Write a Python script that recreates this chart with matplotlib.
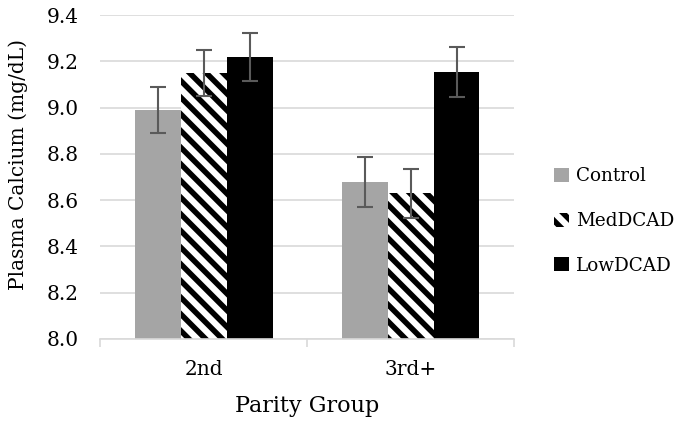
import matplotlib
matplotlib.use("Agg")
import matplotlib.pyplot as plt
import numpy as np

plt.rcParams['font.family'] = ['DejaVu Serif']
plt.rcParams['hatch.linewidth'] = 4.0

groups = ["2nd", "3rd+"]
series = ["Control", "MedDCAD", "LowDCAD"]
control = [8.99, 8.68]
med_dcad = [9.15, 8.63]
low_dcad = [9.22, 9.155]
control_err = [0.10, 0.108]
med_dcad_err = [0.10, 0.105]
low_dcad_err = [0.103, 0.108]

values = [control, med_dcad, low_dcad]
errors = [control_err, med_dcad_err, low_dcad_err]
faces = ["#a5a5a5", "white", "black"]
hatches = [None, "\\\\", None]

W, H = 679, 423
fig = plt.figure(figsize=(W / 100, H / 100), dpi=100)
ax = fig.add_axes([0.1473, 0.1986, 0.6097, 0.7659])

x = np.arange(len(groups))
width = 0.2222
offsets = [-width, 0, width]
for vals, errs, fc, h, name, off in zip(values, errors, faces, hatches, series, offsets):
    ax.bar(x + off, np.array(vals) - 8.0, width, bottom=8.0, color=fc,
           edgecolor="black" if h else fc, linewidth=0, hatch=h, label=name, zorder=2)
    ax.errorbar(x + off, vals, yerr=errs, fmt="none", ecolor="#5a5a5a",
                elinewidth=1.5, capsize=5.5, capthick=1.5, zorder=3)

ax.set_ylim(8.0, 9.4)
ax.set_yticks(np.arange(8.0, 9.41, 0.2))
ax.set_yticklabels([f"{v:.1f}" for v in np.arange(8.0, 9.41, 0.2)])
ax.set_xlim(-0.5, 1.5)
ax.set_xticks(x)
ax.set_xticklabels(groups)
ax.set_xticks([-0.5, 0.5, 1.5], minor=True)
ax.tick_params(axis="x", which="major", length=0, pad=15, labelsize=14.5)
ax.tick_params(axis="x", which="minor", length=6, color="#d9d9d9", width=1.2)
ax.tick_params(axis="y", length=0, pad=15.5, labelsize=14.5, colors="black")

ax.yaxis.grid(True, color="#d9d9d9", linewidth=1.2, zorder=0)
ax.set_axisbelow(True)
for s in ["top", "right", "left"]:
    ax.spines[s].set_visible(False)
ax.spines["bottom"].set_color("#d9d9d9")
ax.spines["bottom"].set_linewidth(1.2)

ax.set_xlabel("Parity Group", fontsize=16, va="center")
ax.xaxis.set_label_coords(0.5, -0.207)
ax.set_ylabel("Plasma Calcium (mg/dL)", fontsize=14.5, va="center")
ax.yaxis.set_label_coords(-0.198, 0.54)

leg = fig.legend(loc="center left", bbox_to_anchor=(554 / W, 1 - 221 / H),
                 frameon=False, fontsize=13.2, handlelength=0.8, handleheight=0.8,
                 handletextpad=0.4, labelspacing=1.45, borderpad=0, borderaxespad=0)

fig.savefig("out.png", dpi=100)
